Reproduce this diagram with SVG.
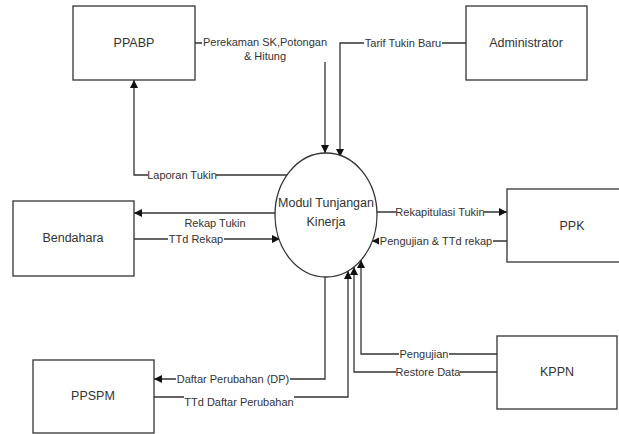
<svg xmlns="http://www.w3.org/2000/svg" width="619" height="434" viewBox="0 0 619 434">
<defs>
<style>
.box{fill:#fff;stroke:#333;stroke-width:1.3}
.nt{font-family:"Liberation Sans",Arial,sans-serif;font-size:12.5px;fill:#333;text-anchor:middle;dominant-baseline:central}
.lt{font-family:"Liberation Sans",Arial,sans-serif;font-size:11px;fill:#333;text-anchor:middle;dominant-baseline:central}
.ln{fill:none;stroke:#333;stroke-width:1.3}
.bg{fill:#fff}
</style>
<marker id="ah" viewBox="0 0 10 10" refX="10" refY="5" markerWidth="8" markerHeight="8" markerUnits="userSpaceOnUse" orient="auto">
<path d="M0,0 L10,5 L0,10 z" fill="#111"/>
</marker>
</defs>
<rect width="619" height="434" fill="#fff"/>
<g id="connectors">
<path class="ln" d="M195,43 H325 V153" marker-end="url(#ah)"/>
<path class="ln" d="M466,43 H340 V157" marker-end="url(#ah)"/>
<path class="ln" d="M287,175 H134 V80" marker-end="url(#ah)"/>
<path class="ln" d="M275,213 H134" marker-end="url(#ah)"/>
<path class="ln" d="M134,239 H280" marker-end="url(#ah)"/>
<path class="ln" d="M377,212 H507" marker-end="url(#ah)"/>
<path class="ln" d="M507,241 H372" marker-end="url(#ah)"/>
<path class="ln" d="M325,277 V379 H154" marker-end="url(#ah)"/>
<path class="ln" d="M154,397 H348 V271" marker-end="url(#ah)"/>
<path class="ln" d="M497,354 H361 V260" marker-end="url(#ah)"/>
<path class="ln" d="M497,372 H354 V267" marker-end="url(#ah)"/>
<rect class="bg" x="202" y="35" width="126" height="27"/>
<text class="lt" x="265" y="42">Perekaman SK,Potongan</text>
<text class="lt" x="265" y="56">&amp; Hitung</text>
<rect class="bg" x="364" y="36" width="78" height="14"/>
<text class="lt" x="403" y="43">Tarif Tukin Baru</text>
<rect class="bg" x="148" y="168" width="68" height="14"/>
<text class="lt" x="182" y="175">Laporan Tukin</text>
<text class="lt" x="215" y="223">Rekap Tukin</text>
<rect class="bg" x="168" y="232" width="56" height="14"/>
<text class="lt" x="196" y="239">TTd Rekap</text>
<rect class="bg" x="396" y="205" width="88" height="14"/>
<text class="lt" x="440" y="212">Rekapitulasi Tukin</text>
<rect class="bg" x="379" y="234" width="114" height="14"/>
<text class="lt" x="436" y="241">Pengujian &amp; TTd rekap</text>
<rect class="bg" x="176" y="372" width="114" height="14"/>
<text class="lt" x="233" y="379">Daftar Perubahan (DP)</text>
<rect class="bg" x="184" y="395" width="110" height="14"/>
<text class="lt" x="239" y="402">TTd Daftar Perubahan</text>
<rect class="bg" x="399" y="347" width="50" height="14"/>
<text class="lt" x="424" y="354">Pengujian</text>
<rect class="bg" x="396" y="365" width="64" height="14"/>
<text class="lt" x="428" y="372">Restore Data</text>
</g>
<g id="ppabp"><rect class="box" x="73" y="6" width="122" height="74"/><text class="nt" x="134" y="43">PPABP</text></g>
<g id="administrator"><rect class="box" x="466" y="6" width="121" height="74"/><text class="nt" x="526" y="43">Administrator</text></g>
<g id="modul"><ellipse class="box" cx="326" cy="215" rx="51" ry="62"/><text class="nt" x="326" y="203">Modul Tunjangan</text><text class="nt" x="326" y="222">Kinerja</text></g>
<g id="bendahara"><rect class="box" x="13" y="201" width="121" height="75"/><text class="nt" x="73" y="238">Bendahara</text></g>
<g id="ppk"><rect class="box" x="507" y="189" width="120" height="73"/><text class="nt" x="572" y="226">PPK</text></g>
<g id="ppspm"><rect class="box" x="33" y="360" width="121" height="73"/><text class="nt" x="93" y="396">PPSPM</text></g>
<g id="kppn"><rect class="box" x="497" y="336" width="120" height="73"/><text class="nt" x="557" y="372">KPPN</text></g>
</svg>
